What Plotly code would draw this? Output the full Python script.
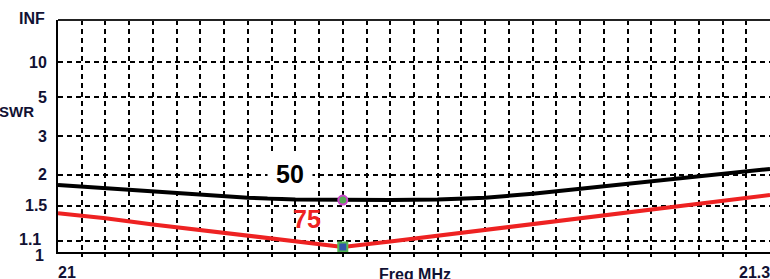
import plotly.graph_objects as go

# ---- data ----
freq_mhz = [21.00, 21.02, 21.04, 21.06, 21.08, 21.10, 21.12, 21.14,
            21.16, 21.18, 21.20, 21.22, 21.24, 21.26, 21.28, 21.30]
swr_50 = [1.81, 1.76, 1.70, 1.65, 1.61, 1.585, 1.577, 1.577,
          1.585, 1.61, 1.67, 1.75, 1.83, 1.92, 2.01, 2.115]
swr_75 = [1.40, 1.34, 1.27, 1.21, 1.155, 1.10, 1.045, 1.094,
          1.15, 1.215, 1.28, 1.345, 1.415, 1.49, 1.567, 1.652]
marker_freq = 21.12
marker_swr_50 = 1.577
marker_swr_75 = 1.045
y_tick_labels = ["INF", "10", "5", "3", "2", "1.5", "1.1", "1"]
y_tick_swr = [float("inf"), 10, 5, 3, 2, 1.5, 1.1, 1]
grid_swr = [10, 5, 3, 2, 1.5, 1.1]
x_grid = [round(21.0 + 0.01 * i, 2) for i in range(1, 30)]
x_labels = ["21", "21.3"]
x_label_vals = [21.0, 21.3]


def rho(s):
    if s == float("inf"):
        return 1.0
    return (s - 1.0) / (s + 1.0)


FONT = "Arial, Liberation Sans, sans-serif"
fig = go.Figure()

fig.add_trace(go.Scatter(x=freq_mhz, y=[rho(s) for s in swr_50], mode="lines",
                         line=dict(color="#000000", width=4), hoverinfo="skip"))
fig.add_trace(go.Scatter(x=freq_mhz, y=[rho(s) for s in swr_75], mode="lines",
                         line=dict(color="#ee2222", width=4), hoverinfo="skip"))
fig.add_trace(go.Scatter(x=[marker_freq], y=[rho(marker_swr_50)], mode="markers",
                         marker=dict(symbol="circle", size=9, color="#55aa55",
                                     line=dict(color="#cc44cc", width=2))))
fig.add_trace(go.Scatter(x=[marker_freq], y=[rho(marker_swr_75)], mode="markers",
                         marker=dict(symbol="square", size=9, color="#3355aa",
                                     line=dict(color="#55bb55", width=2))))

W, H = 770, 279
L, R, T, B = 58, 0, 20, 27
pw = W - L - R

fig.update_layout(
    width=W, height=H, showlegend=False,
    margin=dict(l=L, r=R, t=T, b=B),
    paper_bgcolor="white", plot_bgcolor="white",
    xaxis=dict(range=[21.0, 21.3], tickvals=x_grid, showticklabels=False,
               showgrid=True, gridcolor="black", gridwidth=2, griddash="5px,4px",
               zeroline=False, showline=True, linecolor="black", linewidth=2,
               ticks="outside", ticklen=3, tickwidth=2, tickcolor="black"),
    yaxis=dict(range=[0, 1], tickvals=[rho(s) for s in grid_swr], showticklabels=False,
               showgrid=True, gridcolor="black", gridwidth=2, griddash="5px,4px",
               zeroline=False, showline=True, linecolor="black", linewidth=2,
               ticks=""),
)
# top border
fig.add_shape(type="line", xref="paper", yref="paper", x0=0, x1=1, y0=1, y1=1,
              line=dict(color="#222", width=2))

# y tick labels
y_shift = {"INF": (-2, 2), "1.1": (-6, 1), "1": (-3, -3)}
for t, s in zip(y_tick_labels, y_tick_swr):
    dx, dy = y_shift.get(t, (0, 0))
    fig.add_annotation(x=(49 - L) / pw, xref="paper", y=rho(s), yref="y", text="<b>" + t + "</b>",
                       showarrow=False, xanchor="right", yanchor="middle",
                       xshift=dx, yshift=dy,
                       font=dict(family=FONT, size=16, color="#111133"))

fig.add_annotation(x=(-3 - L) / pw, xref="paper", y=(H - B - 111) / (H - T - B), yref="paper",
                   text="<b>SWR</b>", showarrow=False, xanchor="left", yanchor="middle",
                   font=dict(family=FONT, size=15, color="#111133"))

# x labels
x_anchor = {"21": ("left", -2), "21.3": ("right", 2)}
for t, v in zip(x_labels, x_label_vals):
    anc, dx = x_anchor[t]
    fig.add_annotation(x=v, xref="x", y=0, yref="paper", text="<b>" + t + "</b>",
                       showarrow=False, xanchor=anc, yanchor="top", yshift=-10, xshift=dx,
                       font=dict(family=FONT, size=16, color="#111133"))
fig.add_annotation(x=(415 - L) / pw, xref="paper", y=0, yref="paper", text="<b>Freq MHz</b>",
                   showarrow=False, xanchor="center", yanchor="top", yshift=-12,
                   font=dict(family=FONT, size=16, color="#111133"))

# series labels
fig.add_annotation(x=21.0978, y=rho(2.02), text="<b>50</b>", showarrow=False,
                   xanchor="center", yanchor="middle", bgcolor="white", borderpad=8,
                   font=dict(family=FONT, size=25, color="#000000"))
fig.add_annotation(x=21.105, y=rho(1.33), text="<b>75</b>", showarrow=False,
                   xanchor="center", yanchor="middle",
                   font=dict(family=FONT, size=25, color="#ee2222"))

fig.write_html("out.html", config={"displayModeBar": False},
               post_script="document.body.style.margin='0';document.body.style.overflow='hidden';")
